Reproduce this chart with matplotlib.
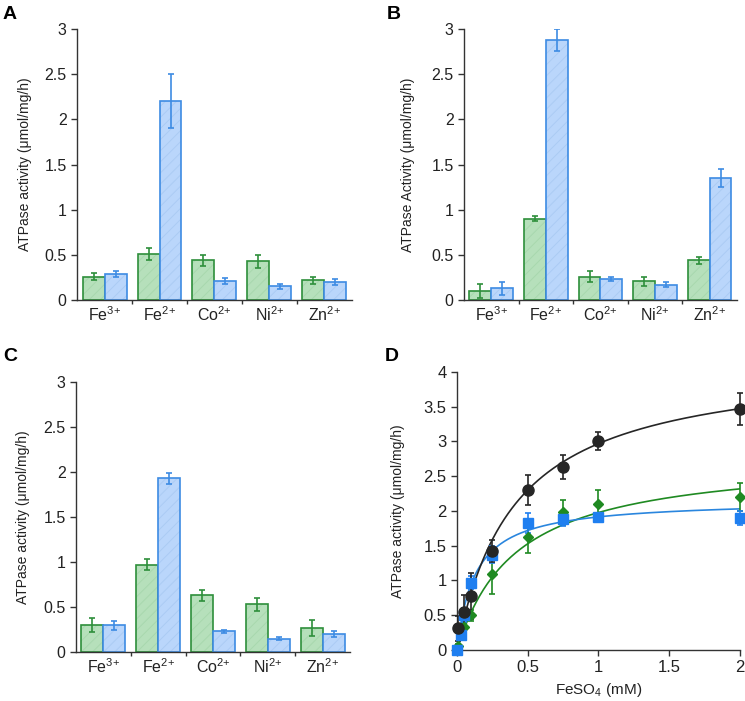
import numpy as np
import matplotlib
matplotlib.use("Agg")
import matplotlib.pyplot as plt

plt.rcParams['font.family'] = ['Liberation Sans', 'DejaVu Sans']
plt.rcParams['mathtext.fontset'] = 'custom'
plt.rcParams['mathtext.rm'] = 'Liberation Sans'
plt.rcParams['mathtext.it'] = 'Liberation Sans'
plt.rcParams['hatch.linewidth'] = 0.7

# bar panels: metal ions, green = first protein, blue = second protein
ions = ["Fe$^{3{+}}$", "Fe$^{2{+}}$", "Co$^{2{+}}$", "Ni$^{2{+}}$", "Zn$^{2{+}}$"]

a_green = [0.26, 0.51, 0.44, 0.43, 0.22]
a_green_err = [0.04, 0.07, 0.06, 0.07, 0.04]
a_blue = [0.29, 2.20, 0.21, 0.15, 0.20]
a_blue_err = [0.03, 0.30, 0.03, 0.03, 0.03]

b_green = [0.10, 0.90, 0.26, 0.21, 0.44]
b_green_err = [0.08, 0.03, 0.06, 0.05, 0.04]
b_blue = [0.13, 2.88, 0.23, 0.17, 1.35]
b_blue_err = [0.07, 0.12, 0.02, 0.03, 0.10]

c_green = [0.30, 0.97, 0.63, 0.53, 0.27]
c_green_err = [0.08, 0.06, 0.06, 0.07, 0.09]
c_blue = [0.30, 1.93, 0.23, 0.15, 0.20]
c_blue_err = [0.05, 0.06, 0.02, 0.02, 0.03]

# panel D: FeSO4 titration
blk_x = [0.01, 0.05, 0.1, 0.25, 0.5, 0.75, 1.0, 2.0]
blk_y = [0.31, 0.55, 0.78, 1.42, 2.30, 2.63, 3.00, 3.46]
blk_err = [0.18, 0.24, 0.33, 0.16, 0.22, 0.17, 0.13, 0.23]
blu_x = [0.0, 0.025, 0.05, 0.1, 0.25, 0.5, 0.75, 1.0, 2.0]
blu_y = [0.0, 0.22, 0.50, 0.97, 1.37, 1.83, 1.88, 1.92, 1.90]
blu_err = [0.02, 0.08, 0.10, 0.10, 0.12, 0.14, 0.10, 0.05, 0.10]
grn_x = [0.0, 0.01, 0.05, 0.1, 0.25, 0.5, 0.75, 1.0, 2.0]
grn_y = [0.0, 0.05, 0.33, 0.50, 1.10, 1.62, 1.98, 2.10, 2.20]
grn_err = [0.02, 0.03, 0.06, 0.08, 0.30, 0.22, 0.18, 0.20, 0.20]
# Michaelis-Menten fit parameters (Vmax, Km)
blk_fit = (4.18, 0.408)
blu_fit = (2.16, 0.128)
grn_fit = (2.80, 0.416)

G_EDGE, G_FILL, G_HATCH = "#2e8f3b", "#b6e0bb", "#a8d8ae"
B_EDGE, B_FILL, B_HATCH = "#3d8be3", "#bad6fb", "#abcbf4"
AX_COL = "#333333"

fig = plt.figure(figsize=(7.45, 7.01), dpi=100)


def style_axes(ax):
    for s in ["top", "right"]:
        ax.spines[s].set_visible(False)
    for s in ["left", "bottom"]:
        ax.spines[s].set_color(AX_COL)
        ax.spines[s].set_linewidth(1.0)
    ax.tick_params(direction="out", color=AX_COL, width=1.0, length=4,
                   labelsize=11.5, labelcolor="#222222")


def bar_panel(rect, green, green_err, blue, blue_err, ylabel, lab_x, letter, lxy):
    ax = fig.add_axes(rect)
    x = np.arange(len(ions))
    w = 0.4
    for xs, vals, err, ec, fc, hc in [(x - w / 2, green, green_err, G_EDGE, G_FILL, G_HATCH),
                                      (x + w / 2, blue, blue_err, B_EDGE, B_FILL, B_HATCH)]:
        ax.bar(xs, vals, w, color=fc, edgecolor=hc, hatch="///", linewidth=0)
        ax.bar(xs, vals, w, fill=False, edgecolor=ec, linewidth=1.2)
        ax.errorbar(xs, vals, yerr=err, fmt="none", ecolor=ec, elinewidth=1.2,
                    capsize=2, capthick=1.2)
    ax.set_xlim(-0.5, 4.5)
    ax.set_ylim(0, 3)
    ax.set_yticks(np.arange(0, 3.01, 0.5))
    ax.set_yticklabels(["0", "0.5", "1", "1.5", "2", "2.5", "3"])
    ax.set_xticks(x)
    ax.set_xticklabels(ions, fontsize=11)
    ax.set_xticks(np.arange(0.5, 4, 1), minor=True)
    style_axes(ax)
    ax.tick_params(axis="x", which="major", length=0, pad=4)
    ax.tick_params(axis="x", which="minor", direction="out", length=3, width=1.0, color=AX_COL)
    ax.set_ylabel(ylabel, fontsize=10, color="#222222")
    ax.yaxis.set_label_coords(lab_x, 0.5)
    fig.text(lxy[0], lxy[1], letter, fontsize=14, fontweight="bold", va="top", ha="left")
    return ax


bar_panel([0.1034, 0.572, 0.369, 0.3866], a_green, a_green_err, a_blue, a_blue_err,
          "ATPase activity (μmol/mg/h)", -0.165, "A", (0.004, 0.992))
bar_panel([0.6228, 0.572, 0.3664, 0.3866], b_green, b_green_err, b_blue, b_blue_err,
          "ATPase Activity (μmol/mg/h)", -0.18, "B", (0.519, 0.992))
bar_panel([0.102, 0.0699, 0.3678, 0.385], c_green, c_green_err, c_blue, c_blue_err,
          "ATPase activity (μmol/mg/h)", -0.168, "C", (0.004, 0.503))

# panel D
ax = fig.add_axes([0.6134, 0.0728, 0.3799, 0.3966])
xx = np.linspace(0, 2, 300)
for px, py, pe, fit, col, lcol, mk, ms in [
        (grn_x, grn_y, grn_err, grn_fit, "#1f8a22", "#1f8a22", "D", 5),
        (blu_x, blu_y, blu_err, blu_fit, "#1f7ff0", "#2a86de", "s", 7.5),
        (blk_x, blk_y, blk_err, blk_fit, "#262626", "#262626", "o", 8)]:
    vmax, km = fit
    ax.plot(xx, vmax * xx / (km + xx), color=lcol, lw=1.2, zorder=2)
    ax.errorbar(px, py, yerr=pe, fmt="none", ecolor=col, elinewidth=1.2,
                capsize=2, capthick=1.2, zorder=3, clip_on=False)
    ax.plot(px, py, mk, color=col, ms=ms, mec=col, zorder=4, clip_on=False)
ax.set_xlim(0, 2)
ax.set_ylim(0, 4)
ax.set_xticks([0, 0.5, 1, 1.5, 2])
ax.set_xticklabels(["0", "0.5", "1", "1.5", "2"])
ax.set_yticks(np.arange(0, 4.01, 0.5))
ax.set_yticklabels(["0", "0.5", "1", "1.5", "2", "2.5", "3", "3.5", "4"])
style_axes(ax)
ax.tick_params(labelsize=12)
ax.set_xlabel("FeSO$_4$ (mM)", fontsize=11, color="#222222", labelpad=4)
ax.set_ylabel("ATPase activity (μmol/mg/h)", fontsize=10, color="#222222")
ax.yaxis.set_label_coords(-0.185, 0.5)
fig.text(0.516, 0.503, "D", fontsize=14, fontweight="bold", va="top", ha="left")

fig.savefig("out.png", dpi=100)
